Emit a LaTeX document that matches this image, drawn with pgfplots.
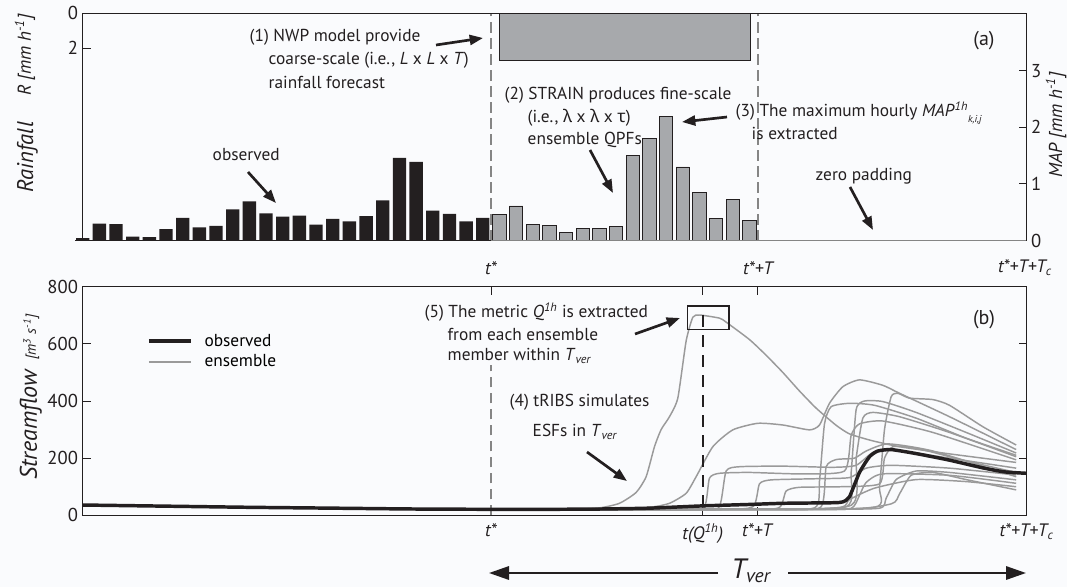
\documentclass[border=0pt]{standalone}
\usepackage{fontspec}
\setmainfont{PT Sans}
\newfontfamily\grk{Noto Sans}
\usepackage{pgfplots}
\usepackage{pgfplotstable}
\pgfplotsset{compat=1.18}
\usetikzlibrary{arrows.meta}

\definecolor{ink}{HTML}{231F20}
\definecolor{barg}{HTML}{A7A9AC}
\definecolor{ensg}{HTML}{9A9A9A}
\definecolor{dashg}{HTML}{858585}
\definecolor{bg}{HTML}{FAFBFD}

% hourly mean areal precipitation, observed part (before t*)
\pgfplotstableread{
x h
0 0.04
1 0.30
2 0.29
3 0.07
4 0.06
5 0.20
6 0.40
7 0.23
8 0.26
9 0.55
10 0.69
11 0.48
12 0.42
13 0.44
14 0.28
15 0.38
16 0.34
17 0.43
18 0.71
19 1.46
20 1.39
21 0.53
22 0.47
23 0.34
24 0.40
}\obsrain

% one STRAIN ensemble member (t* to t*+T)
\pgfplotstableread{
x h
25 0.46
26 0.61
27 0.28
28 0.27
29 0.14
30 0.21
31 0.21
32 0.25
33 1.51
34 1.81
35 2.19
36 1.30
37 0.85
38 0.39
39 0.73
40 0.36
}\fcstrain

\pgfplotsset{
  panel/.style={
    scale only axis, width=707.85pt, xmin=0, xmax=56.62, clip=false,
    axis line style={ink, line width=0.75pt},
    tick style={ink, line width=0.75pt}, major tick length=6pt,
    tick align=inside,
    /pgf/number format/assume math mode=true,
    tick label style={font=\fontsize{14}{16}\selectfont, text=ink},
  },
  ens/.style={ensg, line width=1.1pt, smooth, tension=0.35, forget plot},
}

\begin{document}
\begin{tikzpicture}[font=\fontsize{13}{15}\selectfont]
\fill[bg] (0,0) rectangle (800.25pt,440.25pt);
\useasboundingbox (0,0) rectangle (800.25pt,440.25pt);

% ---------- (a) rainfall: coarse NWP forecast, inverted R axis ----------
\begin{axis}[panel, at={(62.03pt,259.875pt)}, anchor=south west,
  height=170.625pt, y dir=reverse, ymin=0, ymax=12.9,
  axis line style={draw=none}, xtick=\empty, ytick={0,2}, ytick pos=left]
\addplot[fill=barg, draw=ink, line width=0.75pt]
  coordinates {(25.03,0) (40.07,0) (40.07,2.7) (25.03,2.7) (25.03,0)};
\end{axis}

% ---------- (a) rainfall: MAP bars ----------
\begin{axis}[panel, at={(62.03pt,259.875pt)}, anchor=south west,
  height=170.625pt, ymin=0, ymax=4.02,
  axis line style={draw=none}, xtick=\empty, ytick={0,1,2,3},
  ytick pos=right, yticklabel pos=right]
\draw[dashg, line width=1.3pt, dash pattern=on 8pt off 4pt]
  (axis cs:24.5,0) -- (axis cs:24.5,4.02);
\draw[dashg, line width=1.3pt, dash pattern=on 8pt off 4pt]
  (axis cs:40.5,0) -- (axis cs:40.5,4.02);
\addplot[ybar, bar width=0.8, bar shift=0pt, fill=ink, draw=none]
  table[x=x, y=h] {\obsrain};
\addplot[ybar, bar width=0.8, bar shift=0pt, fill=barg, draw=ink, line width=0.5pt]
  table[x=x, y=h] {\fcstrain};
\draw[ink, line width=0.75pt] (axis cs:-0.45,0) -- (axis cs:24.5,0);
\draw[dashg, line width=0.9pt] (axis cs:24.5,0) -- (axis cs:56.62,0);
\draw[ink, line width=0.75pt] (rel axis cs:0,0) -- (rel axis cs:0,1)
  -- (rel axis cs:1,1) -- (rel axis cs:1,0);
\end{axis}

% ---------- (b) streamflow ----------
\begin{axis}[panel, at={(62.03pt,53.775pt)}, anchor=south west,
  height=171.45pt, ymin=0, ymax=800, ytick={0,200,...,800},
  xtick={24.5,37.2,40.5,56.62},
  xticklabels={\textit{t*}, \textit{t(Q\textsuperscript{1h})}, \textit{t*+T},
    \textit{t*+T+T\textsubscript{c}}},
  xticklabel style={yshift=-3pt, font=\fontsize{13.5}{15}\selectfont},
  legend style={at={(0.068,0.806)}, anchor=north west, draw=none, fill=none,
    font=\fontsize{13}{15}\selectfont, inner sep=0pt, row sep=1pt},
  legend cell align=left,
  legend image code/.code={\draw[#1] (0pt,0pt) -- (31.5pt,0pt);}]
\addlegendimage{ink, line width=2.6pt}
\addlegendentry{\ \ observed}
\addlegendimage{ensg, line width=1.3pt}
\addlegendentry{\ \ ensemble}

\draw[dashg, line width=1.3pt, dash pattern=on 8pt off 4pt]
  (axis cs:24.5,0) -- (axis cs:24.5,525);

% ensemble streamflow forecasts
\addplot[ens] coordinates {(24.5,19)(29,20)(31,26)(32.2,42)(33.2,80)(33.8,135)
  (34.3,240)(34.7,300)(35.2,345)(35.7,410)(36.2,610)(36.6,693)(37.0,701)
  (38.2,690)(38.6,676)(40,615)(41,560)(42,500)(43,435)(44,375)(45.2,315)
  (46,285)(47.3,262)(49,240)(52,215)(56,185)};
\addplot[ens] coordinates {(24.5,19)(31,20)(34,28)(35.2,42)(36.2,77)(36.8,135)
  (37.8,240)(39,299)(40.5,322)(42,316)(43.6,299)(44.2,316)(44.8,392)(45.6,450)
  (46.6,474)(48,455)(49,427)(52,345)(56,230)};
\addplot[ens] coordinates {(24.5,19)(40,21)(47.5,28)(47.8,100)(48.1,300)
  (48.5,415)(48.9,427)(49.6,410)(51,405)(52,385)(54,310)(56,246)};
\addplot[ens] coordinates {(24.5,19)(40,21)(43.9,26)(44.2,120)(44.5,320)
  (44.9,380)(46,392)(47.5,385)(50,340)(53,270)(56,210)};
\addplot[ens] coordinates {(24.5,19)(40,22)(45.8,30)(46.1,150)(46.4,370)
  (46.9,400)(48,398)(50,360)(53,290)(56,218)};
\addplot[ens] coordinates {(24.5,19)(40,22)(46.1,35)(46.4,200)(46.8,340)
  (47.4,360)(49,345)(52,290)(56,205)};
\addplot[ens] coordinates {(24.5,19)(36,21)(37.3,30)(37.6,130)(38.2,147)
  (40,150)(43,145)(45.7,155)(46.1,280)(46.6,320)(48,330)(51,290)(56,194)};
\addplot[ens] coordinates {(24.5,19)(37,21)(38.2,32)(38.6,155)(39.4,170)
  (42,172)(45,168)(46.4,175)(47.4,220)(48.5,230)(52,200)(56,165)};
\addplot[ens] coordinates {(24.5,19)(38,21)(40.2,30)(40.6,110)(41.3,124)
  (44,128)(46,132)(47,165)(48.5,175)(52,165)(56,141)};
\addplot[ens] coordinates {(24.5,19)(40,21)(41.8,28)(42.2,85)(43,98)(45.5,100)
  (47.8,110)(48.1,200)(48.6,240)(50,235)(53,190)(56,150)};
\addplot[ens] coordinates {(24.5,19)(44,21)(47.8,25)(48.2,60)(48.8,125)
  (50,155)(52,150)(56,124)};
\addplot[ens] coordinates {(24.5,19)(44,21)(46.1,24)(46.6,70)(47,115)(48,145)
  (52,140)(56,112)};
\addplot[ens] coordinates {(24.5,19)(42,21)(45.5,28)(46,55)(47.5,95)(50,125)
  (53,118)(56,100)};
\addplot[ens] coordinates {(24.5,19)(45,20)(48.5,40)(49,75)(49.7,140)(51,150)
  (53,125)(56,89)};
\addplot[ens] coordinates {(24.5,19)(42,22)(44.3,30)(44.6,170)(45.2,195)
  (46.3,200)(47,225)(48.3,250)(51,225)(56,135)};

% observed streamflow
\addplot[ink, line width=2.6pt, smooth, tension=0.35, forget plot]
  coordinates {(0,36)(5,32)(10,28)(15,25)(20,22)(24.5,21)(28,21)(31,22)
  (34,25)(37.2,33)(40,38)(42,42)(45,44)(45.6,47)(46,65)(46.6,150)(47.2,205)
  (47.7,225)(48.5,230)(50,216)(52,193)(54,166)(55.3,152)(56.62,147)};

\draw[ink, line width=1.5pt, dash pattern=on 9pt off 6pt]
  (axis cs:37.2,700) -- (axis cs:37.2,0);
\draw[ink, line width=1.1pt] (axis cs:36.27,651) rectangle (axis cs:38.77,732.5);
\end{axis}

% ---------- labels and annotations (pixel-like coordinates) ----------
\begin{scope}[x=0.75pt, y=-0.75pt, yshift=440.25pt, text=ink]
\tikzset{arr/.style={ink, line width=2pt, -{Triangle[length=10pt,width=7.5pt]}}}

% axis titles
\node[rotate=90, anchor=base, font=\fontsize{17}{19}\selectfont\itshape] at (33,157) {Rainfall};
\node[rotate=90, anchor=base, font=\fontsize{14}{16}\selectfont\itshape] at (31,55) {R [mm h\textsuperscript{-1}]};
\node[rotate=90, anchor=base, font=\fontsize{14}{16}\selectfont\itshape] at (1062,125) {MAP [mm h\textsuperscript{-1}]};
\node[rotate=90, anchor=base, font=\fontsize{18}{20}\selectfont\itshape] at (37,425) {Streamflow};
\node[rotate=90, anchor=base, font=\fontsize{11}{13}\selectfont\itshape] at (36,337) {[m\textsuperscript{3} s\textsuperscript{-1}]};

% time marks of panel (a)
\node[font=\fontsize{13.5}{15}\selectfont\itshape] at (491,268) {t*};
\node[font=\fontsize{13.5}{15}\selectfont\itshape] at (758,268) {t*+T};
\node[font=\fontsize{13.5}{15}\selectfont\itshape] at (1025,268) {t*+T+T\textsubscript{c}};

% panel tags
\node[font=\fontsize{15}{17}\selectfont] at (984,41) {(a)};
\node[font=\fontsize{15}{17}\selectfont] at (984,320) {(b)};

% (1) NWP
\node[anchor=west] at (245,37) {(1) NWP model provide};
\node[anchor=west] at (264,60) {coarse-scale (i.e., \textit{L} x \textit{L} x \textit{T})};
\node[anchor=west] at (264,82) {rainfall forecast};
\draw[arr] (436,45) -- (483,38);

% observed
\node[anchor=west] at (208,155) {observed};
\draw[arr] (248,172) -- (276,203);

% (2) STRAIN
\node[anchor=west] at (500,95) {(2) STRAIN produces fine-scale};
\node[anchor=west] at (523,118) {(i.e., {\grk λ} x {\grk λ} x {\grk τ})};
\node[anchor=west] at (523,140) {ensemble QPFs};
\draw[arr] (590,150) -- (613,193);

% (3) maximum
\node[anchor=west] at (731,113) {(3) The maximum hourly \textit{MAP}\textsuperscript{\textit{1h}}\raisebox{-0.7ex}{\fontsize{7.5}{8}\selectfont\textit{k,i,j}}};
\node[anchor=west] at (747,133) {is extracted};
\draw[arr] (727,117) -- (682,122);

% zero padding
\node[anchor=west] at (811,176) {zero padding};
\draw[arr] (850,187) -- (873,230);

% (5) metric
\node[anchor=west] at (420,312) {(5) The metric \textit{Q}\textsuperscript{\textit{1h}} is extracted};
\node[anchor=west] at (443,334) {from each ensemble};
\node[anchor=west] at (443,356) {member within \textit{T}\textsubscript{\textit{ver}}};
\draw[arr] (635,334) -- (680,318);

% (4) tRIBS
\node[anchor=west] at (505,402) {(4) tRIBS simulates};
\node[anchor=west] at (528,432) {ESFs in \textit{T}\textsubscript{\textit{ver}}};
\draw[arr] (587,452) -- (627,481);

% verification window
\draw[ink, line width=1.6pt, -{Triangle[length=15pt,width=10pt]}] (718,573) -- (489,573);
\draw[ink, line width=1.6pt, -{Triangle[length=15pt,width=10pt]}] (788,573) -- (1026,573);
\node[font=\fontsize{21}{23}\selectfont\itshape] at (751,571) {T\textsubscript{ver}};
\end{scope}
\end{tikzpicture}
\end{document}
